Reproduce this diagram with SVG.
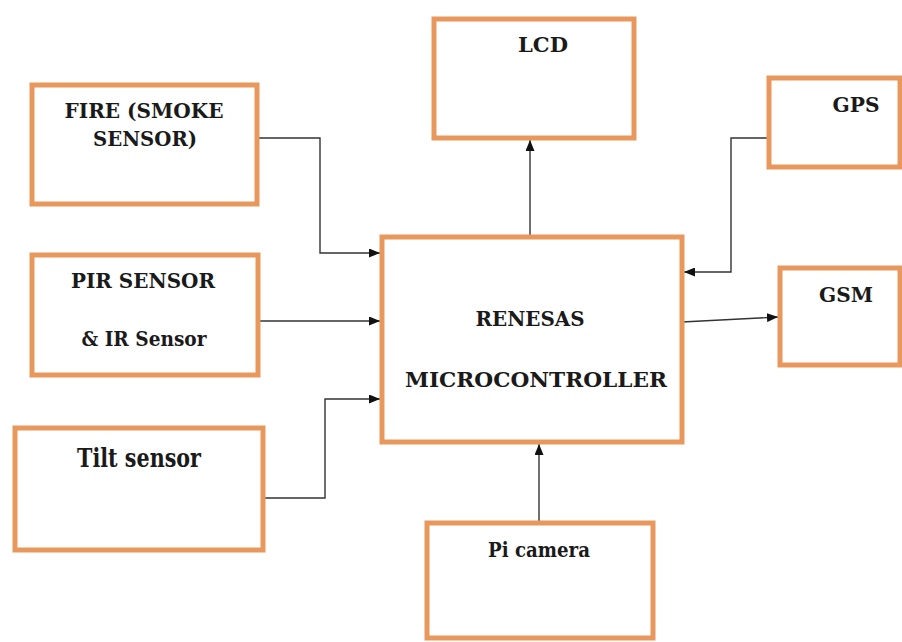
<svg xmlns="http://www.w3.org/2000/svg" width="902" height="642" viewBox="0 0 902 642">
<style>
.box{fill:#fff;stroke:#E8985C;stroke-width:5}
.t{font-family:'DejaVu Serif','Liberation Serif',serif;font-weight:bold;font-size:21px;fill:#1a1a1a;text-anchor:middle}
.big{font-size:26px}
.c{fill:none;stroke:#333;stroke-width:1.4;marker-end:url(#ah)}
</style>
<defs>
<marker id="ah" markerWidth="11" markerHeight="9" refX="11" refY="4.5" orient="auto" markerUnits="userSpaceOnUse">
<path d="M0,0 L11,4.5 L0,9 Z" fill="#111"/>
</marker>
</defs>
<rect width="902" height="642" fill="#fff"/>
<g id="connectors">
<path class="c" d="M257,138 H320 V253 H380"/>
<path class="c" d="M258,321 H380"/>
<path class="c" d="M263,498 H325 V399 H380"/>
<path class="c" d="M530,237 V140"/>
<path class="c" d="M769,138 H731 V272 H684"/>
<path class="c" d="M682,322 L778,317"/>
<path class="c" d="M539,523 V444"/>
</g>
<g id="fire">
<rect class="box" x="32" y="85" width="225" height="119"/>
<text class="t" x="144" y="118" textLength="159" lengthAdjust="spacingAndGlyphs">FIRE (SMOKE</text>
<text class="t" x="145" y="146" textLength="104" lengthAdjust="spacingAndGlyphs">SENSOR)</text>
</g>
<g id="pir">
<rect class="box" x="32" y="255" width="226" height="120"/>
<text class="t" x="143" y="288" textLength="144" lengthAdjust="spacingAndGlyphs">PIR SENSOR</text>
<text class="t" x="144" y="346" textLength="125" lengthAdjust="spacingAndGlyphs">&amp; IR Sensor</text>
</g>
<g id="tilt">
<rect class="box" x="15" y="428" width="248" height="122"/>
<text class="t big" x="139" y="467" textLength="124" lengthAdjust="spacingAndGlyphs">Tilt sensor</text>
</g>
<g id="lcd">
<rect class="box" x="434" y="19" width="200" height="119"/>
<text class="t" x="543" y="52" textLength="50" lengthAdjust="spacingAndGlyphs">LCD</text>
</g>
<g id="mcu">
<rect class="box" x="382" y="237" width="300" height="205"/>
<text class="t" x="530" y="326" textLength="109" lengthAdjust="spacingAndGlyphs">RENESAS</text>
<text class="t" x="536" y="387" textLength="262" lengthAdjust="spacingAndGlyphs">MICROCONTROLLER</text>
</g>
<g id="gps">
<rect class="box" x="769" y="78" width="131" height="89"/>
<text class="t" x="856" y="112" textLength="47" lengthAdjust="spacingAndGlyphs">GPS</text>
</g>
<g id="gsm">
<rect class="box" x="780" y="268" width="120" height="97"/>
<text class="t" x="846" y="302" textLength="54" lengthAdjust="spacingAndGlyphs">GSM</text>
</g>
<g id="picam">
<rect class="box" x="427" y="523" width="226" height="115"/>
<text class="t" x="539" y="557" textLength="102" lengthAdjust="spacingAndGlyphs">Pi camera</text>
</g>
</svg>
